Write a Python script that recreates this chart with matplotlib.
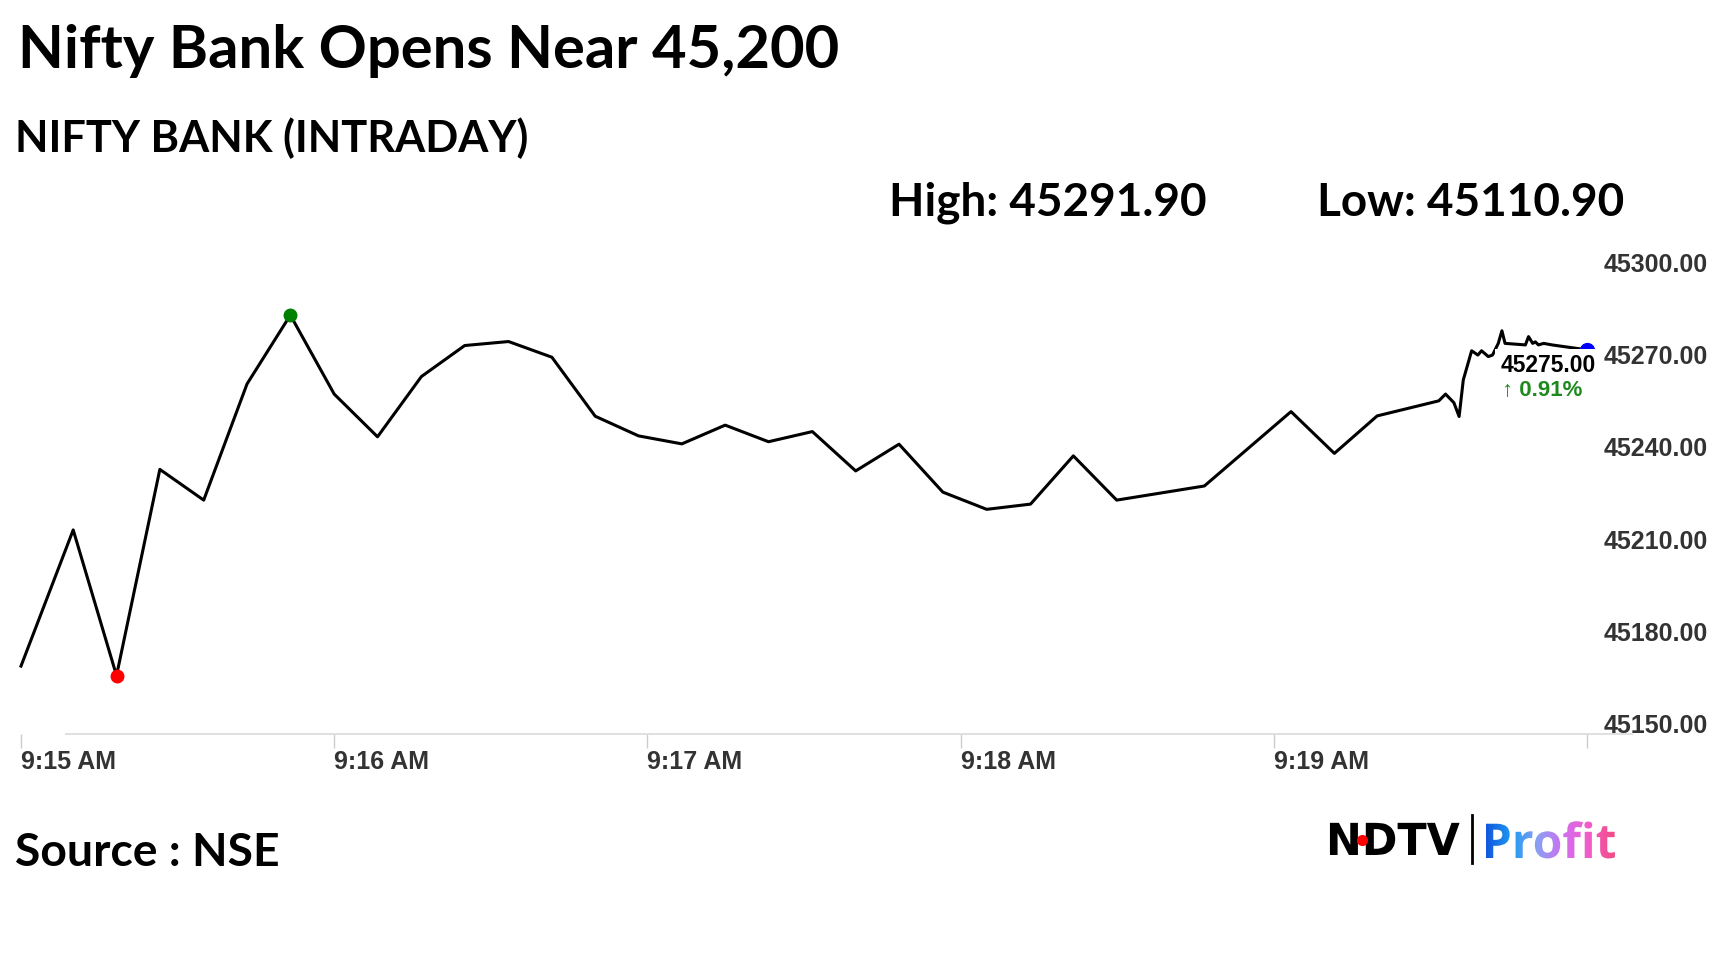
"""Nifty Bank intraday line chart, NDTV Profit style."""
import numpy as np
import matplotlib.pyplot as plt
from matplotlib.transforms import offset_copy, Affine2D
from matplotlib.textpath import TextPath
from matplotlib.font_manager import FontProperties
from matplotlib.patches import PathPatch
from matplotlib.colors import LinearSegmentedColormap

W, H = 1728, 972

# seconds after 9:15 AM and index level
times = [0, 10, 18.3, 26.6, 35, 43.3, 51.6, 60, 68.3, 76.7, 85, 93.4, 101.7,
         110, 118.3, 126.6, 134.9, 143.2, 151.6, 159.9, 168.2, 176.6, 185,
         193.4, 201.6, 209.9, 218.3, 226.7, 243.3, 251.6, 259.8, 271.6, 272.9,
         274.5, 275.5, 276.3, 277.9, 279.1, 279.8, 281.1, 281.9, 283.0, 283.7,
         284.3, 288.2, 288.8, 289.6, 290.1, 290.7, 291.7, 293.3, 300]
prices = [45172.1, 45216.4, 45169.0, 45236.1, 45226.1, 45263.9, 45286.3,
          45260.6, 45246.7, 45266.3, 45276.4, 45277.7, 45272.6, 45253.4,
          45247.0, 45244.4, 45250.5, 45245.1, 45248.4, 45235.6, 45244.3,
          45228.7, 45223.1, 45224.8, 45240.5, 45226.1, 45228.4, 45230.7,
          45254.9, 45241.3, 45253.5, 45258.4, 45260.6, 45257.8, 45253.3,
          45265.2, 45274.7, 45273.3, 45274.7, 45272.8, 45273.3, 45277.1,
          45281.2, 45277.1, 45276.6, 45279.3, 45277.1, 45277.6, 45276.6,
          45277.1, 45276.6, 45275.0]

x_ticks = [0, 60, 120, 180, 240, 300]
x_labels = ["9:15 AM", "9:16 AM", "9:17 AM", "9:18 AM", "9:19 AM", ""]
y_ticks = [45150, 45180, 45210, 45240, 45270, 45300]

day_high = 45291.90
day_low = 45110.90
change_pct = 0.91

profit_colors = ["#1257dc", "#1e9bf2", "#8a9ff3", "#d06ff0", "#f35cc8", "#f24b82"]

fig = plt.figure(figsize=(W / 100, H / 100), dpi=100)

ax = fig.add_axes([21 / W, 1 - 734 / H, 1566 / W, 461 / H])
ax.set_xlim(0, 300)
ax.set_ylim(45150, 45300)
for s in ax.spines.values():
    s.set_visible(False)
ax.set_yticks([])
ax.set_xticks(x_ticks, x_labels)
ax.tick_params(axis='x', length=10, width=1, color='#cccccc', pad=1.5,
               labelsize=18, labelcolor='#333333')
for lab in ax.get_xticklabels():
    lab.set_ha('left')
    lab.set_fontweight('bold')
    lab.set_family('Liberation Sans')

# axis line (starts a bit right of the first tick, like the original)
ax.plot([45 / 1566, 1611 / 1566], [0, 0], transform=ax.transAxes,
        color='#dddddd', lw=1.3, clip_on=False)

ax.plot(times, prices, color='black', lw=2.2, zorder=3, clip_on=False)

i_hi = prices.index(max(prices))
i_lo = prices.index(min(prices))
ax.plot(times[i_hi], prices[i_hi], 'o', color='green', ms=9, zorder=4, clip_on=False)
ax.plot(times[i_lo], prices[i_lo], 'o', color='red', ms=9, zorder=4, clip_on=False)
ax.plot(times[-1], prices[-1], 'o', color='blue', ms=10, zorder=4, clip_on=False)

# last value label with white box over the line
ax.annotate(f"{prices[-1]:.2f}", xy=(times[-1], prices[-1]), xytext=(9, -16),
            textcoords='offset pixels', ha='right', va='center', fontsize=16.5,
            fontweight='bold', family='Liberation Sans', color='black', zorder=6,
            bbox=dict(boxstyle='square,pad=0.25', fc='white', ec='none'),
            annotation_clip=False)
ax.annotate(f"\u2191 {change_pct:.2f}%", xy=(times[-1], prices[-1]), xytext=(-85, -41),
            textcoords='offset pixels', ha='left', va='center', fontsize=16,
            fontweight='bold', family=['Liberation Sans', 'DejaVu Sans'],
            color='#1e8a1e', zorder=6,
            bbox=dict(boxstyle='square,pad=0.2', fc='white', ec='none'),
            annotation_clip=False)

# y labels on the right, sitting a little above their value
ylab_tr = offset_copy(ax.get_yaxis_transform(), fig=fig, x=17, y=8, units='dots')
for v in y_ticks:
    ax.text(1, v, f"{v:.2f}", transform=ylab_tr, ha='left', va='center',
            fontsize=18, fontweight='bold', family='Liberation Sans',
            color='#333333', clip_on=False)

# headings
fig.text(18 / W, 1 - 68 / H, "Nifty Bank Opens Near 45,200", fontsize=43,
         fontweight='bold', family='Lato', va='baseline')
fig.text(15 / W, 1 - 152 / H, "NIFTY BANK (INTRADAY)", fontsize=31.2,
         fontweight='bold', family='Lato', va='baseline')
fig.text(889 / W, 1 - 216 / H, f"High: {day_high:.2f}", fontsize=33,
         fontweight='bold', family='Lato', va='baseline')
fig.text(1317 / W, 1 - 216 / H, f"Low: {day_low:.2f}", fontsize=33,
         fontweight='bold', family='Lato', va='baseline')
fig.text(15 / W, 1 - 866 / H, "Source : NSE", fontsize=33.3,
         fontweight='bold', family='Lato', va='baseline')

# NDTV | Profit logo, drawn on a pixel-space overlay
lax = fig.add_axes([0, 0, 1, 1])
lax.set_xlim(0, W)
lax.set_ylim(H, 0)
lax.axis('off')

ndtv = TextPath((0, 0), "NDTV", size=42, prop=FontProperties(family='DejaVu Sans', weight='bold'))
lax.add_patch(PathPatch(ndtv, fc='black', ec='none',
                        transform=Affine2D().scale(1.02, -1.05).translate(1326, 855) + lax.transData))
lax.plot(1362, 840, 'o', color='red', ms=7)
lax.plot([1472, 1472], [815, 863], color='black', lw=2)

profit = TextPath((0, 0), "Profit", size=48, prop=FontProperties(family='Open Sans', weight='bold'))
pbox = profit.get_extents()
p_tr = Affine2D().scale(1, -1).translate(1486 - pbox.x0, 858) + lax.transData
p_patch = PathPatch(profit, fc='none', ec='none', transform=p_tr)
lax.add_patch(p_patch)
grad = LinearSegmentedColormap.from_list("profit", profit_colors)
img = lax.imshow(np.linspace(0, 1, 256)[None, :], cmap=grad, aspect='auto',
                 extent=[1486, 1486 + pbox.width, 872, 810])
img.set_clip_path(p_patch)
lax.set_xlim(0, W)
lax.set_ylim(H, 0)

fig.savefig("out.png", dpi=100, facecolor='white')
